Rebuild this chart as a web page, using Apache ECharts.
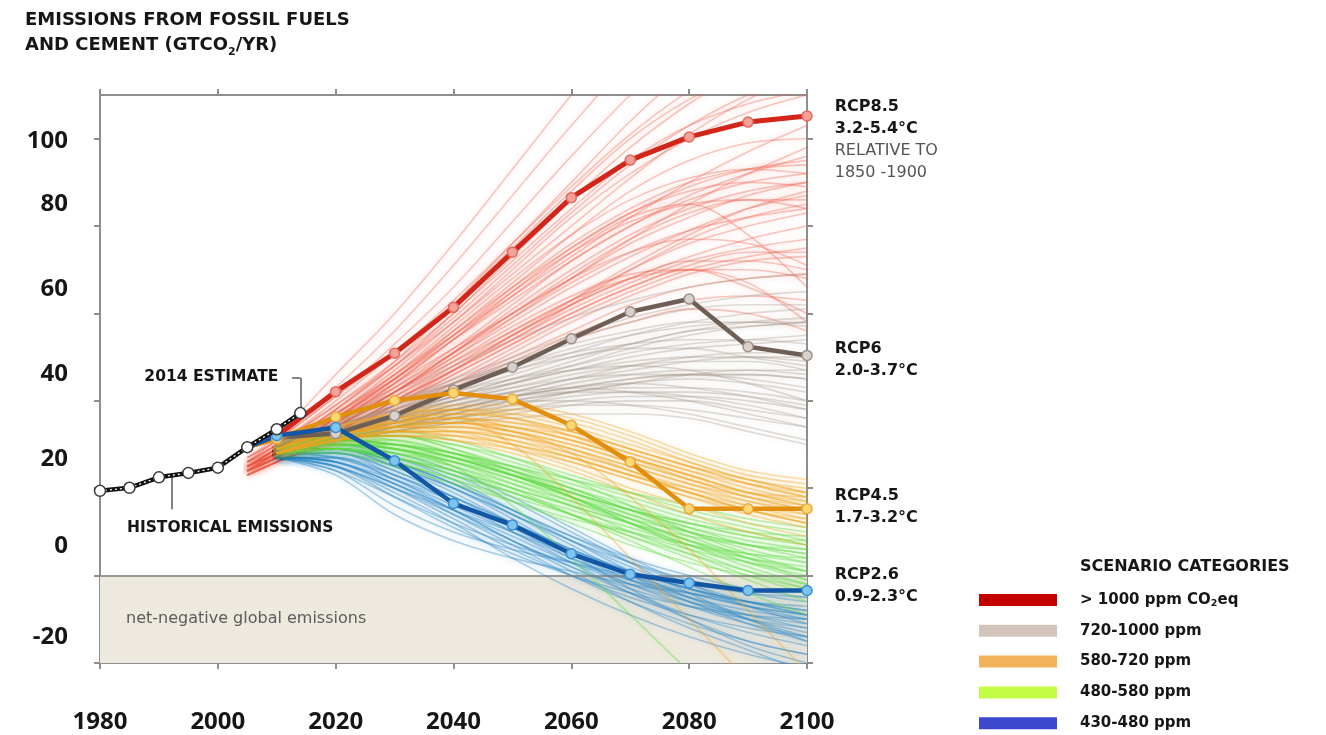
<!DOCTYPE html>
<html>
<head>
<meta charset="utf-8">
<title>Emissions from fossil fuels and cement</title>
<script src="https://cdn.jsdelivr.net/npm/echarts@6/dist/echarts.min.js"></script>
<style>
  html, body { margin: 0; padding: 0; background: #ffffff; }
  #chart { width: 1326px; height: 735px; }
</style>
</head>
<body>
<div id="chart"></div>
<script>
// ---- data -------------------------------------------------------------
// Sample years for the scenario pathways (GtCO2 per year)
const years = [2005, 2010, 2020, 2030, 2040, 2050, 2060, 2070, 2080, 2090, 2100];

// Observed emissions
const histYears = [1980, 1985, 1990, 1995, 2000, 2005, 2010, 2014];
const histValues = [19.4, 20.1, 22.5, 23.5, 24.7, 29.4, 33.5, 37.2];

// Representative concentration pathways
const rcpNames = ['RCP8.5', 'RCP6', 'RCP4.5', 'RCP2.6'];
const rcpWarming = ['3.2-5.4°C', '2.0-3.7°C', '1.7-3.2°C', '0.9-2.3°C'];
const rcp85 = [29.4, 32.0, 42.1, 50.9, 61.4, 74.0, 86.5, 95.1, 100.4, 103.8, 105.2];
const rcp6  = [29.4, 31.6, 32.5, 36.6, 42.5, 47.7, 54.2, 60.4, 63.3, 52.4, 50.4];
const rcp45 = [29.4, 31.3, 36.3, 40.1, 41.8, 40.4, 34.4, 26.0, 15.3, 15.3, 15.3];
const rcp26 = [29.4, 32.0, 33.9, 26.3, 16.5, 11.6, 5.0, 0.3, -1.7, -3.4, -3.4];

// Scenario categories (2100 CO2-equivalent concentration)
const categories = ['> 1000 ppm CO2eq', '720-1000 ppm', '580-720 ppm', '480-580 ppm', '430-480 ppm'];

// Individual scenario pathways per category
const scenariosOver1000 = [
  [27, 32, 46, 60, 76, 93, 110, 126, 140, 152, 162],
  [27, 31, 43, 56, 71, 87, 103, 118, 131, 142, 150],
  [26, 31, 41, 53, 66, 81, 96, 110, 122, 131, 138],
  [27, 31, 41, 51, 62, 75, 88, 100, 109, 115, 119],
  [26, 30, 39, 48, 58, 69, 80, 91, 101, 109, 115],
  [25, 29, 37, 46, 55, 64, 73, 82, 90, 97, 103],
  [26, 29, 37, 45, 54, 63, 72, 80, 87, 92, 96],
  [25, 28, 36, 44, 52, 60, 68, 76, 82, 87, 90],
  [25, 28, 35, 42, 50, 58, 66, 73, 79, 84, 87],
  [24, 28, 35, 42, 49, 56, 63, 70, 76, 80, 83],
  [25, 29, 36, 43, 51, 59, 67, 74, 79, 82, 84],
  [24, 27, 34, 41, 48, 55, 62, 68, 73, 77, 80],
  [25, 28, 35, 43, 52, 62, 72, 80, 86, 90, 92],
  [24, 27, 33, 40, 47, 54, 61, 67, 72, 75, 77],
  [24, 27, 33, 39, 45, 52, 59, 65, 70, 73, 75],
  [25, 28, 35, 44, 54, 64, 74, 82, 85, 78, 66],
  [24, 27, 33, 39, 46, 53, 60, 66, 70, 70, 68],
  [23, 26, 32, 38, 44, 50, 56, 62, 66, 68, 69],
  [24, 27, 34, 41, 49, 57, 64, 69, 70, 66, 60],
  [23, 26, 32, 37, 43, 49, 55, 60, 63, 64, 63],
  [24, 27, 33, 40, 48, 56, 63, 68, 70, 67, 58],
  [23, 26, 31, 36, 42, 48, 54, 58, 61, 60, 56],
  [25, 29, 37, 47, 58, 70, 82, 92, 100, 106, 110],
  [26, 30, 39, 49, 60, 73, 86, 98, 108, 116, 122],
  [24, 27, 34, 42, 51, 61, 70, 78, 84, 88, 90],
  [25, 28, 36, 45, 55, 66, 76, 84, 90, 93, 94],
  [25, 29, 38, 49, 62, 76, 90, 104, 116, 126, 134],
  [24, 27, 34, 42, 50, 59, 68, 77, 85, 92, 98],
  [26, 30, 40, 51, 63, 76, 89, 101, 111, 119, 125],
  [25, 29, 38, 48, 59, 71, 83, 94, 103, 110, 114],
  [25, 28, 36, 45, 56, 67, 78, 88, 95, 99, 100],
  [24, 28, 35, 44, 54, 65, 75, 83, 88, 90, 89],
  [25, 29, 37, 46, 56, 66, 75, 83, 89, 93, 95],
  [24, 27, 34, 42, 51, 60, 69, 77, 83, 86, 86],
  [24, 28, 36, 45, 55, 65, 74, 81, 85, 86, 84],
  [23, 27, 33, 40, 47, 55, 63, 71, 78, 84, 88],
  [24, 27, 33, 40, 47, 54, 62, 70, 77, 82, 85],
  [23, 26, 32, 39, 46, 53, 60, 66, 71, 74, 74],
  [24, 27, 34, 42, 51, 60, 68, 74, 77, 76, 71],
  [23, 26, 31, 37, 44, 51, 58, 64, 69, 72, 73],
  [24, 28, 36, 46, 57, 68, 78, 86, 91, 93, 92],
  [25, 29, 38, 48, 60, 72, 84, 95, 103, 108, 111],
  [23, 26, 32, 39, 47, 55, 62, 68, 72, 72, 70]
];
const scenarios720to1000 = [
  [null, 30, 35, 40, 45, 50, 55, 59, 62, 64, 65],
  [null, 30, 34, 39, 43, 47, 51, 55, 58, 60, 61],
  [null, 29, 34, 38, 42, 46, 50, 53, 56, 57, 58],
  [null, 30, 35, 40, 44, 48, 51, 53, 54, 54, 53],
  [null, 29, 33, 37, 41, 44, 47, 50, 52, 53, 54],
  [null, 29, 33, 36, 39, 42, 45, 47, 49, 50, 50],
  [null, 29, 32, 35, 38, 41, 44, 46, 47, 47, 46],
  [null, 29, 33, 37, 40, 43, 45, 46, 46, 45, 43],
  [null, 28, 31, 34, 37, 40, 42, 44, 45, 44, 42],
  [null, 29, 34, 38, 42, 45, 47, 48, 47, 44, 40],
  [null, 28, 31, 34, 36, 38, 40, 41, 41, 40, 38],
  [null, 28, 31, 33, 35, 37, 39, 40, 40, 38, 36],
  [null, 29, 33, 36, 38, 40, 40, 39, 37, 34, 31],
  [null, 28, 31, 33, 35, 36, 37, 37, 36, 33, 30],
  [null, 30, 36, 42, 48, 54, 59, 63, 66, 68, 69],
  [null, 29, 34, 39, 44, 49, 53, 56, 58, 58, 57],
  [null, 29, 32, 35, 38, 41, 43, 45, 46, 46, 45],
  [null, 28, 32, 35, 38, 41, 43, 44, 43, 41, 38],
  [null, 29, 33, 38, 43, 47, 50, 52, 52, 50, 48],
  [null, 29, 32, 36, 40, 44, 48, 52, 55, 57, 58],
  [null, 28, 31, 34, 37, 39, 41, 42, 42, 41, 39],
  [null, 29, 33, 37, 40, 42, 43, 42, 40, 37, 34],
  [null, 29, 34, 39, 44, 48, 52, 55, 57, 58, 58],
  [null, 29, 33, 37, 41, 45, 48, 51, 53, 54, 55],
  [null, 28, 32, 35, 39, 42, 45, 48, 50, 51, 51],
  [null, 29, 33, 37, 41, 44, 47, 49, 50, 50, 49],
  [null, 28, 31, 35, 38, 41, 43, 45, 46, 46, 45],
  [null, 28, 32, 36, 40, 43, 46, 48, 49, 49, 47],
  [null, 28, 31, 34, 37, 40, 42, 43, 43, 42, 40],
  [null, 29, 34, 39, 44, 49, 54, 58, 61, 62, 62],
  [null, 28, 31, 34, 36, 38, 39, 39, 38, 36, 34],
  [null, 29, 33, 37, 41, 45, 49, 53, 56, 58, 59],
  [null, 28, 31, 33, 36, 39, 42, 44, 46, 47, 47],
  [null, 28, 32, 36, 39, 41, 42, 42, 41, 39, 36]
];
const scenarios580to720 = [
  [null, 29, 33, 36, 38, 38, 36, 32, 27, 23, 21],
  [null, 29, 33, 35, 36, 35, 32, 28, 24, 20, 17],
  [null, 28, 32, 34, 34, 32, 29, 25, 21, 18, 16],
  [null, 29, 34, 37, 38, 36, 32, 27, 22, 18, 15],
  [null, 28, 31, 33, 33, 31, 28, 24, 20, 16, 13],
  [null, 28, 32, 34, 33, 30, 26, 22, 18, 14, 11],
  [null, 28, 31, 32, 31, 29, 26, 22, 18, 15, 12],
  [null, 29, 33, 35, 35, 33, 30, 26, 22, 19, 18],
  [null, 28, 31, 33, 32, 29, 25, 20, 16, 12, 9],
  [null, 28, 32, 35, 37, 37, 35, 31, 26, 22, 20],
  [null, 28, 31, 32, 31, 28, 24, 19, 14, 10, 7],
  [null, 29, 33, 36, 36, 30, 18, 4, -10, -24, -38],
  [null, 28, 32, 34, 35, 33, 28, 18, 6, -8, -22],
  [null, 29, 34, 37, 39, 39, 37, 33, 28, 24, 22],
  [null, 28, 31, 33, 33, 31, 27, 23, 19, 16, 14],
  [null, 29, 33, 36, 37, 36, 33, 29, 25, 22, 19],
  [null, 28, 32, 35, 36, 34, 31, 27, 23, 19, 16],
  [null, 29, 33, 36, 37, 36, 33, 29, 25, 21, 18],
  [null, 28, 32, 34, 35, 34, 31, 27, 23, 19, 16],
  [null, 28, 31, 33, 34, 33, 30, 26, 22, 18, 15],
  [null, 29, 34, 37, 38, 37, 34, 30, 26, 22, 19],
  [null, 28, 32, 34, 34, 32, 28, 24, 19, 15, 12],
  [null, 28, 31, 32, 32, 30, 27, 23, 19, 15, 13],
  [null, 29, 33, 36, 36, 34, 31, 27, 23, 19, 17],
  [null, 28, 32, 35, 36, 35, 33, 29, 25, 21, 18],
  [null, 28, 31, 33, 33, 32, 29, 25, 21, 17, 14],
  [null, 29, 33, 35, 35, 33, 29, 24, 19, 15, 12],
  [null, 28, 32, 34, 35, 34, 32, 28, 24, 21, 19],
  [null, 28, 31, 33, 32, 30, 27, 23, 20, 17, 15]
];
const scenarios480to580 = [
  [null, 29, 31, 30, 27, 23, 19, 15, 12, 10, 9],
  [null, 29, 32, 32, 30, 26, 22, 18, 14, 11, 8],
  [null, 28, 30, 28, 25, 21, 17, 13, 10, 7, 5],
  [null, 29, 31, 30, 27, 23, 18, 13, 8, 4, 1],
  [null, 28, 29, 27, 23, 19, 15, 11, 7, 4, 2],
  [null, 29, 32, 33, 31, 27, 22, 16, 10, 5, 1],
  [null, 28, 30, 29, 26, 21, 16, 10, 5, 0, -4],
  [null, 28, 29, 26, 22, 17, 12, 7, 3, 0, -3],
  [null, 29, 31, 31, 28, 24, 19, 14, 9, 4, -1],
  [null, 28, 30, 28, 24, 19, 14, 9, 4, -1, -6],
  [null, 29, 32, 32, 29, 24, 18, 12, 6, 1, -3],
  [null, 28, 30, 29, 25, 16, 4, -9, -22, -35, -45],
  [null, 28, 29, 27, 24, 20, 16, 12, 9, 7, 6],
  [null, 29, 31, 29, 25, 20, 14, 8, 2, -4, -9],
  [null, 28, 28, 25, 21, 17, 13, 10, 7, 5, 4],
  [null, 29, 31, 30, 28, 25, 21, 17, 13, 10, 7],
  [null, 28, 30, 30, 28, 25, 22, 19, 16, 13, 11],
  [null, 28, 29, 28, 26, 23, 19, 15, 11, 8, 6],
  [null, 29, 32, 32, 30, 27, 23, 19, 15, 12, 10],
  [null, 28, 30, 29, 27, 24, 20, 16, 12, 9, 7],
  [null, 29, 31, 30, 28, 24, 20, 15, 11, 7, 4],
  [null, 28, 29, 27, 24, 20, 16, 12, 8, 5, 3],
  [null, 29, 32, 32, 29, 25, 20, 15, 10, 6, 3],
  [null, 28, 30, 29, 26, 22, 17, 12, 7, 3, 0],
  [null, 28, 29, 27, 23, 19, 14, 9, 5, 1, -2],
  [null, 29, 31, 30, 27, 23, 18, 13, 8, 3, -1],
  [null, 28, 30, 29, 26, 22, 18, 14, 10, 7, 5],
  [null, 29, 32, 31, 28, 23, 18, 12, 7, 2, -2],
  [null, 28, 29, 26, 22, 18, 14, 10, 6, 3, 1],
  [null, 28, 30, 30, 27, 23, 19, 15, 12, 9, 8]
];
const scenarios430to480 = [
  [null, 28, 29, 26, 21, 15, 9, 4, 0, -3, -5],
  [null, 28, 28, 24, 18, 12, 6, 1, -3, -6, -8],
  [null, 27, 27, 22, 16, 10, 4, -1, -5, -8, -10],
  [null, 28, 29, 25, 19, 12, 5, -1, -6, -10, -13],
  [null, 27, 26, 20, 13, 6, 0, -5, -9, -12, -14],
  [null, 28, 30, 27, 22, 15, 8, 1, -5, -10, -14],
  [null, 27, 25, 18, 11, 5, 0, -4, -7, -9, -10],
  [null, 28, 29, 26, 20, 13, 5, -3, -10, -16, -20],
  [null, 27, 26, 21, 15, 8, 2, -4, -9, -13, -16],
  [null, 27, 24, 16, 10, 6, 3, 0, -2, -4, -5],
  [null, 28, 28, 23, 17, 10, 3, -4, -10, -15, -18],
  [null, 27, 23, 14, 8, 4, 1, -2, -4, -6, -7],
  [null, 28, 29, 27, 23, 17, 10, 3, -4, -10, -15],
  [null, 27, 25, 19, 12, 4, -3, -9, -14, -18, -21],
  [null, 28, 27, 22, 15, 8, 1, -6, -12, -17, -22],
  [null, 27, 26, 22, 17, 11, 6, 1, -3, -6, -8],
  [null, 28, 30, 28, 24, 18, 11, 4, -2, -7, -11],
  [null, 28, 29, 25, 20, 14, 8, 3, -1, -4, -6],
  [null, 27, 27, 23, 17, 11, 5, 0, -4, -7, -9],
  [null, 28, 28, 24, 18, 11, 4, -2, -7, -11, -14],
  [null, 27, 26, 21, 15, 9, 3, -2, -6, -9, -11],
  [null, 28, 29, 26, 21, 14, 7, 0, -6, -11, -15],
  [null, 27, 25, 20, 14, 8, 2, -3, -7, -10, -12],
  [null, 28, 28, 25, 20, 14, 8, 2, -3, -7, -10],
  [null, 27, 26, 21, 14, 7, 0, -6, -11, -15, -18],
  [null, 28, 29, 26, 21, 15, 9, 3, -2, -6, -9],
  [null, 27, 24, 18, 12, 7, 3, -1, -4, -7, -9],
  [null, 28, 27, 23, 18, 12, 6, 0, -5, -9, -12],
  [null, 27, 25, 20, 15, 10, 5, 1, -3, -6, -9]
];

// Axis ticks
const xTicks = [1980, 2000, 2020, 2040, 2060, 2080, 2100];
const yTicks = [-20, 0, 20, 40, 60, 80, 100];

// ---- styling ----------------------------------------------------------
const FONT = '"Open Sans", "Liberation Sans", sans-serif';
const WIDE = '"DejaVu Sans", "Open Sans", sans-serif';
const INK = '#161616';
const AXIS_GREY = '#8e8e8e';

// vertical lift (px) of each y tick label above its tick
const yLabelLift = { '-20': 26, '0': 29, '20': 29, '40': 27, '60': 24, '80': 22, '100': -2 };

const categoryStyle = [
  { swatch: '#c20000', line: '#ec5a46', glow: 'rgba(240,110,92,0.55)', opacity: 0.34 },
  { swatch: '#d3c5bc', line: '#a8998e', glow: 'rgba(185,172,163,0.55)', opacity: 0.34 },
  { swatch: '#f2b25a', line: '#efa522', glow: 'rgba(245,185,70,0.55)', opacity: 0.38 },
  { swatch: '#c4fb44', line: '#62dc4a', glow: 'rgba(130,232,100,0.55)', opacity: 0.42 },
  { swatch: '#3c48d0', line: '#2a86c4', glow: 'rgba(60,150,205,0.55)', opacity: 0.38 }
];
const scenarioSets = [scenariosOver1000, scenarios720to1000, scenarios580to720, scenarios480to580, scenarios430to480];
// drawing order of the categories (later ones on top)
const drawOrder = [0, 1, 4, 3, 2];

const rcpStyle = [
  { line: '#d3261b', fill: '#f5a198', border: '#e06a5e', width: 5,  lift: 24,
    extra: ['RELATIVE TO', '1850 -1900'] },
  { line: '#6e5f56', fill: '#d9d1cb', border: '#9d9089', width: 4.5, lift: 4, extra: [] },
  { line: '#e28f0e', fill: '#fbd874', border: '#e8a83c', width: 4.5, lift: -2, extra: [] },
  { line: '#1257a5', fill: '#7ec4f0', border: '#3c8fd2', width: 4.5, lift: -5, extra: [] }
];
const rcpSeriesData = [rcp85, rcp6, rcp45, rcp26];

const subRich = (size, dy) => ({
  fontSize: size, fontWeight: 'bold', color: INK, fontFamily: WIDE,
  lineHeight: dy, verticalAlign: 'bottom'
});

// ---- series -----------------------------------------------------------
const series = [];

// net-negative zone and the zero line
series.push({
  type: 'line',
  name: 'zone',
  data: [],
  silent: true,
  z: 1,
  markArea: {
    silent: true,
    itemStyle: { color: '#eee9de' },
    label: {
      show: true, position: 'insideLeft', distance: 26,
      color: '#5c5c5c', fontSize: 16, fontFamily: WIDE
    },
    data: [[{ yAxis: -20, name: 'net-negative global emissions' }, { yAxis: 0 }]]
  },
  markLine: {
    silent: true, symbol: 'none',
    lineStyle: { color: '#7c7c7c', width: 1.5, type: 'solid' },
    label: { show: false },
    data: [{ yAxis: 0 }]
  }
});

// scenario pathways, thin strokes with a soft halo
drawOrder.forEach((ci) => {
  const st = categoryStyle[ci];
  scenarioSets[ci].forEach((vals) => {
    series.push({
      type: 'line',
      name: categories[ci],
      data: years.map((y, i) => [y, vals[i]]),
      showSymbol: false,
      smooth: 0.35,
      silent: true,
      z: 3,
      lineStyle: {
        color: st.line, width: 1.6, opacity: st.opacity,
        shadowBlur: 7, shadowColor: st.glow
      },
      itemStyle: { color: st.line }
    });
  });
});

// RCP pathways with the labels at their 2100 end
rcpSeriesData.forEach((vals, k) => {
  const st = rcpStyle[k];
  const lines = ['{b|' + rcpNames[k] + '}', '{b|' + rcpWarming[k] + '}']
    .concat(st.extra.map((t) => '{n|' + t + '}'));
  const data = years.map((y, i) => {
    const item = { value: [y, vals[i]] };
    if (i === 0) item.symbolSize = 0;
    if (i === years.length - 1) {
      item.label = {
        show: true, position: 'right', distance: 22, offset: [0, st.lift],
        formatter: lines.join('\n'),
        rich: {
          b: { fontSize: 16, fontWeight: 'bold', color: INK, lineHeight: 22, fontFamily: WIDE },
          n: { fontSize: 16, color: '#555555', lineHeight: 22, fontFamily: WIDE }
        }
      };
    }
    return item;
  });
  series.push({
    type: 'line',
    name: rcpNames[k],
    data: data,
    z: 5,
    symbol: 'circle',
    symbolSize: 10,
    showSymbol: true,
    lineStyle: { color: st.line, width: st.width },
    itemStyle: { color: st.fill, borderColor: st.border, borderWidth: 1.5 },
    label: { show: false }
  });
});

// observed emissions: black line with white dashes and open markers
const histData = histYears.map((y, i) => [y, histValues[i]]);
series.push({
  type: 'line',
  name: 'historical',
  data: histData,
  z: 6,
  showSymbol: false,
  lineStyle: { color: '#111111', width: 4.5 },
  markLine: {
    silent: true, symbol: 'none',
    lineStyle: { color: '#5a5a5a', width: 1.5, type: 'solid' },
    label: { show: false },
    data: [
      [{ coord: [1992.2, 22.6] }, { coord: [1992.2, 15.2] }],
      [{ coord: [2012.6, 45.3] }, { coord: [2014.0, 45.3] }],
      [{ coord: [2014.0, 45.3] }, { coord: [2014.0, 38.4] }]
    ]
  },
  markPoint: {
    silent: true,
    symbol: 'rect',
    symbolSize: 1,
    itemStyle: { color: 'rgba(0,0,0,0)' },
    label: {
      show: true, position: 'inside',
      color: INK, fontSize: 15.5, fontWeight: 'bold', fontFamily: WIDE
    },
    data: [
      { coord: [2002.1, 11.0], label: { formatter: 'HISTORICAL EMISSIONS' } },
      { coord: [1998.9, 45.5], label: { formatter: '2014 ESTIMATE' } }
    ]
  }
});
series.push({
  type: 'line',
  name: 'historical-dash',
  data: histData,
  z: 7,
  showSymbol: false,
  silent: true,
  lineStyle: { color: '#ffffff', width: 1.3, type: [2, 3] }
});
series.push({
  type: 'line',
  name: 'historical-points',
  data: histData,
  z: 8,
  symbol: 'circle',
  symbolSize: 11,
  showSymbol: true,
  lineStyle: { width: 0, opacity: 0 },
  itemStyle: { color: '#ffffff', borderColor: '#3a3a3a', borderWidth: 1.5 }
});

// ---- axes -------------------------------------------------------------
const axisLineStyle = { color: AXIS_GREY, width: 2 };
const yRich = {};
const yKeys = Object.keys(yLabelLift);
yKeys.forEach((k, i) => {
  const lift = yLabelLift[k];
  yRich['t' + i] = {
    fontSize: 24, fontWeight: 'bold', color: INK, fontFamily: FONT,
    padding: lift >= 0 ? [0, 0, 2 * lift, 0] : [-2 * lift, 0, 0, 0]
  };
});

const option = {
  animation: false,
  backgroundColor: '#ffffff',
  textStyle: { fontFamily: FONT },
  title: [
    {
      text: 'EMISSIONS FROM FOSSIL FUELS\nAND CEMENT (GTCO{sub|2}/YR)',
      left: 25, top: 8, padding: 0,
      textStyle: {
        fontSize: 18, fontWeight: 'bold', color: INK, lineHeight: 25, fontFamily: WIDE,
        rich: { sub: subRich(11, 9) }
      }
    },
    {
      text: 'SCENARIO CATEGORIES',
      left: 1080, top: 559, padding: 0,
      textStyle: { fontSize: 16, fontWeight: 'bold', color: INK, fontFamily: WIDE }
    }
  ],
  legend: {
    orient: 'vertical',
    left: 979, top: 591,
    icon: 'rect',
    itemWidth: 78, itemHeight: 12,
    itemGap: 12.8,
    padding: 0,
    selectedMode: false,
    formatter: (name) => name.replace('CO2', 'CO{sub|2}'),
    textStyle: {
      fontSize: 15, fontWeight: 'bold', color: INK, fontFamily: WIDE,
      lineHeight: 18, padding: [0, 0, 0, 18],
      rich: { sub: subRich(9.5, 8) }
    },
    data: categories.map((c, i) => ({
      name: c,
      itemStyle: { color: categoryStyle[i].swatch, opacity: 1, borderWidth: 0, shadowBlur: 0 }
    }))
  },
  grid: { left: 100, right: 519, top: 95, bottom: 72, outerBoundsMode: 'none' },
  xAxis: [
    {
      type: 'value', min: 1980, max: 2100, interval: 20, position: 'bottom',
      axisLine: { show: true, onZero: false, lineStyle: axisLineStyle },
      axisTick: { show: true, length: 6, lineStyle: axisLineStyle },
      axisLabel: {
        margin: 47, fontSize: 24, fontWeight: 'bold', color: INK, fontFamily: FONT,
        customValues: xTicks, formatter: (v) => String(v)
      },
      splitLine: { show: false }
    },
    {
      type: 'value', min: 1980, max: 2100, interval: 20, position: 'top',
      axisLine: { show: true, onZero: false, lineStyle: axisLineStyle },
      axisTick: { show: true, length: 6, lineStyle: axisLineStyle, customValues: xTicks },
      axisLabel: { show: false },
      splitLine: { show: false }
    }
  ],
  yAxis: [
    {
      type: 'value', min: -20, max: 110, interval: 20, position: 'left',
      axisLine: { show: true, onZero: false, lineStyle: axisLineStyle },
      axisTick: { show: true, length: 6, lineStyle: axisLineStyle, customValues: yTicks },
      axisLabel: {
        margin: 32, customValues: yTicks,
        formatter: (v) => {
          const i = yKeys.indexOf(String(v));
          return i < 0 ? '' : '{t' + i + '|' + v + '}';
        },
        rich: yRich
      },
      splitLine: { show: false }
    },
    {
      type: 'value', min: -20, max: 110, interval: 20, position: 'right',
      axisLine: { show: true, onZero: false, lineStyle: axisLineStyle },
      axisTick: { show: true, length: 6, lineStyle: axisLineStyle, customValues: yTicks },
      axisLabel: { show: false },
      splitLine: { show: false }
    }
  ],
  series: series
};

const chart = echarts.init(document.getElementById('chart'));
chart.setOption(option);
</script>
</body>
</html>
